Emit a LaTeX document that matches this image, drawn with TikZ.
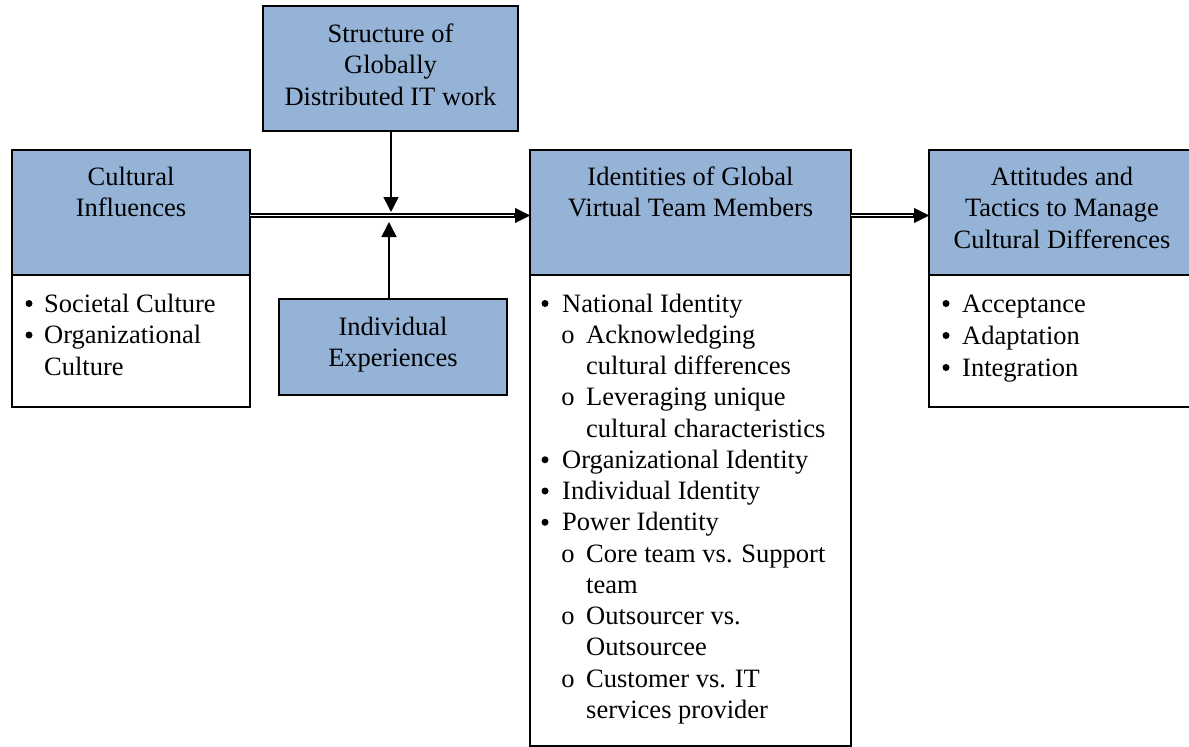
\documentclass[tikz,border=0pt]{standalone}
\usepackage{fontspec}
\setmainfont{Liberation Serif}
\usetikzlibrary{arrows.meta}
\definecolor{hdr}{RGB}{149,179,215}
\tikzset{
 box/.style={draw=black, line width=1.6pt, anchor=north west, inner sep=0pt, outer sep=0pt},
 hbox/.style={box, fill=hdr},
 txt/.style={inner sep=0pt, font=\fontsize{26.5}{31.5}\selectfont},
 ctr/.style={txt, anchor=base},
 lft/.style={txt, anchor=base west},
 dot/.style={circle, fill=black, inner sep=0pt, minimum size=7pt},
 arr/.style={line width=1.6pt, -{Triangle[length=15pt,width=15pt]}},
 tiponly/.style={line width=0.1pt, -{Triangle[length=15pt,width=15pt]}},
 dbl/.style={double=white, draw=black, line width=1.2pt, double distance=1.8pt},
}
\begin{document}
\begin{tikzpicture}[x=1pt,y=-1pt]
\useasboundingbox (0,0) rectangle (1189,747);
% boxes
\node[hbox, minimum width=255pt, minimum height=125pt] (topB) at (263,6) {};
\node[hbox, minimum width=238pt, minimum height=125pt] (culH) at (12,150) {};
\node[box, minimum width=238pt, minimum height=132pt] (culB) at (12,275) {};
\node[hbox, minimum width=228pt, minimum height=96pt] (ind) at (279,299) {};
\node[hbox, minimum width=321pt, minimum height=125pt] (idH) at (530,150) {};
\node[box, minimum width=321pt, minimum height=471pt] (idB) at (530,275) {};
\node[hbox, minimum width=267pt, minimum height=125pt] (attH) at (929,150) {};
\node[box, minimum width=267pt, minimum height=132pt] (attB) at (929,275) {};
% header texts
\node[ctr] (t1) at (390.5,42) {Structure of};
\node[ctr] (t2) at (390.5,73.5) {Globally};
\node[ctr] (t3) at (390.5,105) {Distributed IT work};
\node[ctr] (c1) at (131,185) {Cultural};
\node[ctr] (c2) at (131,216.5) {Influences};
\node[ctr] (i1) at (393,335) {Individual};
\node[ctr] (i2) at (393,366.5) {Experiences};
\node[ctr] (g1) at (690.5,185) {Identities of Global};
\node[ctr] (g2) at (690.5,216.5) {Virtual Team Members};
\node[ctr] (a1) at (1062,185) {Attitudes and};
\node[ctr] (a2) at (1062,216.5) {Tactics to Manage};
\node[ctr] (a3) at (1062,248) {Cultural Differences};
% left list
\node[dot] (cb1) at (29,303.5) {};
\node[lft] (cl1) at (44,312) {Societal Culture};
\node[dot] (cb2) at (29,335) {};
\node[lft] (cl2) at (44,343.5) {Organizational};
\node[lft] (cl3) at (44,375) {Culture};
% right list
\node[dot] (ab1) at (946,303.5) {};
\node[lft] (al1) at (962,312) {Acceptance};
\node[dot] (ab2) at (946,335.5) {};
\node[lft] (al2) at (962,344) {Adaptation};
\node[dot] (ab3) at (946,367.5) {};
\node[lft] (al3) at (962,376) {Integration};
% center list
\node[dot] (gb1) at (545,303.5) {};
\node[lft] (gl1) at (562,312) {National Identity};
\node[ctr] (go1) at (568,343.25) {o};
\node[lft] (gl2) at (586,343.25) {Acknowledging};
\node[lft] (gl3) at (586,374.5) {cultural differences};
\node[ctr] (go2) at (568,405.75) {o};
\node[lft] (gl4) at (586,405.75) {Leveraging unique};
\node[lft] (gl5) at (586,437) {cultural characteristics};
\node[dot] (gb2) at (545,459.75) {};
\node[lft] (gl6) at (562,468.25) {Organizational Identity};
\node[dot] (gb3) at (545,491) {};
\node[lft] (gl7) at (562,499.5) {Individual Identity};
\node[dot] (gb4) at (545,522.25) {};
\node[lft] (gl8) at (562,530.75) {Power Identity};
\node[ctr] (go3) at (568,562) {o};
\node[lft] (gl9) at (586,562) {Core team vs. Support};
\node[lft] (gl10) at (586,593.25) {team};
\node[ctr] (go4) at (568,624.5) {o};
\node[lft] (gl11) at (586,624.5) {Outsourcer vs.};
\node[lft] (gl12) at (586,655.75) {Outsourcee};
\node[ctr] (go5) at (568,687) {o};
\node[lft] (gl13) at (586,687) {Customer vs. IT};
\node[lft] (gl14) at (586,718.25) {services provider};
% connectors
\coordinate (j1) at (391,212);
\coordinate (j2) at (389,222);
\draw[dbl] ([yshift=-3pt]culH.east) -- ([yshift=-3pt,xshift=-12pt]idH.west);
\draw[tiponly] ([yshift=-3pt,xshift=-16pt]idH.west) -- ([yshift=-3pt]idH.west);
\draw[dbl] ([yshift=-3pt]idH.east) -- ([yshift=-3pt,xshift=-12pt]attH.west);
\draw[tiponly] ([yshift=-3pt,xshift=-16pt]attH.west) -- ([yshift=-3pt]attH.west);
\draw[arr] (topB.south -| j1) -- (j1);
\draw[arr] (ind.north -| j2) -- (j2);
\end{tikzpicture}
\end{document}
